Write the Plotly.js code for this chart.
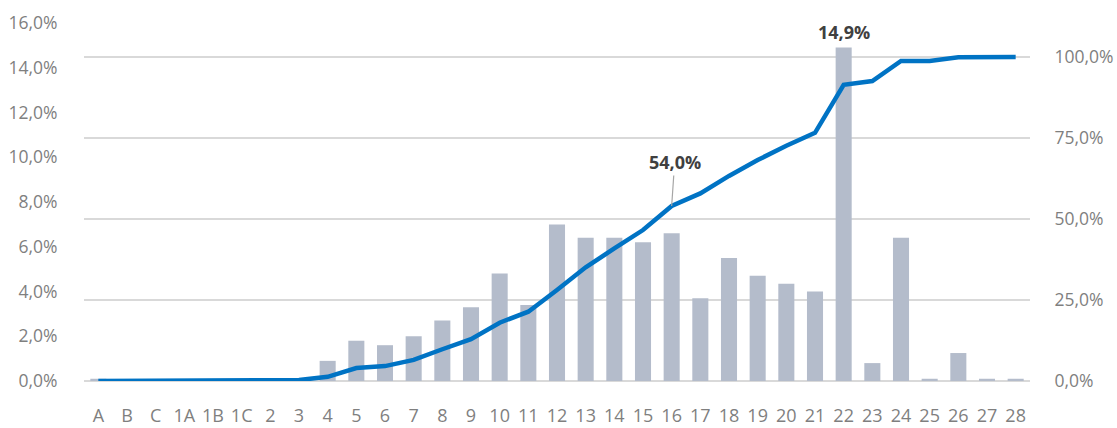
<!DOCTYPE html>
<html>
<head>
<meta charset="utf-8">
<script src="https://cdn.plot.ly/plotly-3.0.1.min.js"></script>
<style>html,body{margin:0;padding:0;background:#fff;}#chart{width:1117px;height:428px;}</style>
</head>
<body>
<div id="chart"></div>
<script>
const categories = ["A","B","C","1A","1B","1C","2","3","4","5","6","7","8","9","10","11","12","13","14","15","16","17","18","19","20","21","22","23","24","25","26","27","28"];
const shareValues = [0.1,0,0,0,0,0,0,0,0.9,1.8,1.6,2.0,2.7,3.3,4.8,3.4,7.0,6.4,6.4,6.2,6.6,3.7,5.5,4.7,4.35,4.0,14.9,0.8,6.4,0.1,1.25,0.1,0.1];
const cumulativeValues = [0,0,0,0,0,0,0,0.3,1.3,4.0,4.6,6.5,9.8,12.9,18.0,21.4,28.1,35.1,40.9,46.6,54.0,57.9,63.3,68.2,72.6,76.6,91.4,92.6,98.8,98.8,99.9,100,100];
const leftTicks = [0,2,4,6,8,10,12,14,16];
const leftTickLabels = ["0,0%","2,0%","4,0%","6,0%","8,0%","10,0%","12,0%","14,0%","16,0%"];
const rightTicks = [0,25,50,75,100];
const rightTickLabels = ["0,0%","25,0%","50,0%","75,0%","100,0%"];

const font = "'Open Sans', 'Noto Sans', sans-serif";
const gray = '#7f7f7f';
const xIndex = c => categories.indexOf(c);

const traces = [
  {
    type: 'bar', x: categories, y: shareValues, yaxis: 'y',
    marker: {color: '#b4bccb'}, hoverinfo: 'skip'
  },
  {
    type: 'scatter', mode: 'lines', x: categories, y: cumulativeValues, yaxis: 'y2',
    line: {color: '#0073c4', width: 4.5}, hoverinfo: 'skip'
  }
];

const layout = {
  width: 1117, height: 428,
  margin: {l: 84, r: 87, t: 23, b: 47, pad: 0},
  paper_bgcolor: '#fff', plot_bgcolor: '#fff',
  showlegend: false,
  bargap: 0.44,
  font: {family: font, size: 17, color: gray},
  xaxis: {
    type: 'category', tickvals: categories, ticktext: categories,
    showgrid: false, zeroline: false, showline: false,
    ticks: 'outside', ticklen: 18, tickcolor: 'rgba(0,0,0,0)',
    tickfont: {family: font, size: 18, color: gray}
  },
  yaxis: {
    range: [0, 16], tickvals: leftTicks, ticktext: leftTickLabels,
    showgrid: false, zeroline: false, showline: false,
    ticks: 'outside', ticklen: 22, tickcolor: 'rgba(0,0,0,0)',
    tickfont: {family: font, size: 17.5, color: gray}
  },
  yaxis2: {
    overlaying: 'y', side: 'right',
    range: [0, 110.5], tickvals: rightTicks, ticktext: rightTickLabels,
    showgrid: true, gridcolor: '#d9d9d9', gridwidth: 1.5,
    zeroline: true, zerolinecolor: '#d9d9d9', zerolinewidth: 1.5, showline: false,
    ticks: 'outside', ticklen: 20, tickcolor: 'rgba(0,0,0,0)',
    tickfont: {family: font, size: 17.5, color: gray}
  },
  annotations: [
    {
      x: xIndex('22'), y: 14.9, xref: 'x', yref: 'y', text: '<b>14,9%</b>',
      showarrow: false, yanchor: 'bottom', yshift: 2,
      font: {family: font, size: 18, color: '#404040'}
    },
    {
      x: xIndex('16'), y: 54.0, xref: 'x', yref: 'y2', text: '<b>54,0%</b>',
      showarrow: true, arrowhead: 0, arrowwidth: 1.2, arrowcolor: '#a6a6a6',
      ax: 3, ay: -44, standoff: 0,
      font: {family: font, size: 18, color: '#404040'}
    }
  ]
};

Plotly.newPlot('chart', traces, layout, {displayModeBar: false, staticPlot: true});
</script>
</body>
</html>
